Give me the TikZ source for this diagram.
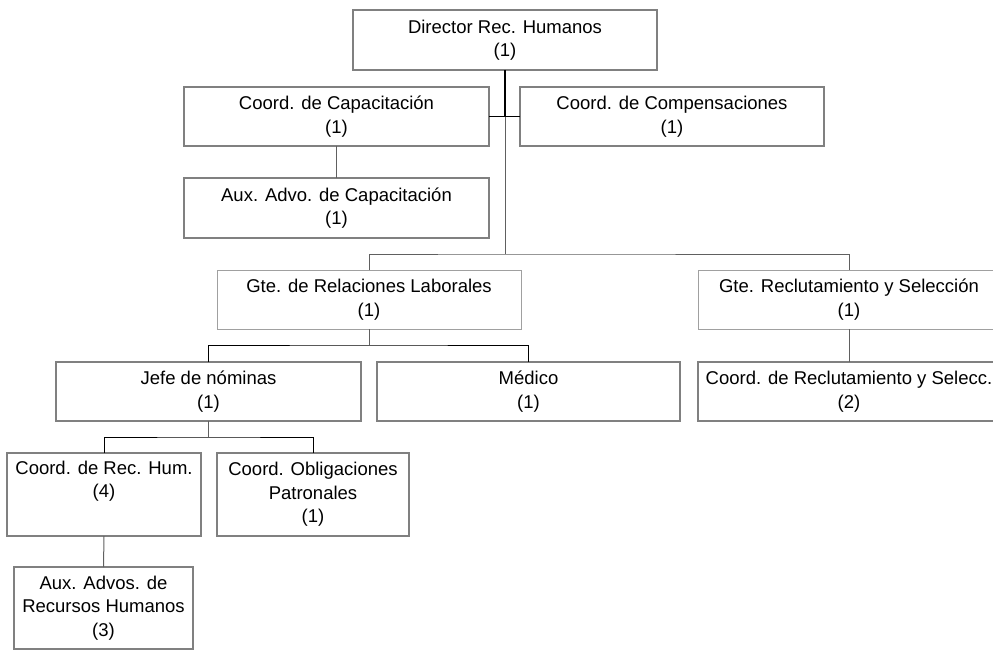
\documentclass[tikz,border=0pt]{standalone}
\usepackage{fontspec}
\setmainfont{Liberation Sans}
\definecolor{boxgray}{HTML}{808080}
\definecolor{thingray}{HTML}{A0A0A0}
\definecolor{linkgray}{HTML}{606060}
\begin{document}
\begin{tikzpicture}[x=1pt,y=-1pt,
  every node/.style={font=\fontsize{18.5}{23.5}\selectfont, align=center, inner sep=0pt, outer sep=0pt},
  unit/.style={draw=boxgray, line width=2pt, minimum height=59pt},
  lightunit/.style={draw=thingray, line width=1pt, minimum height=59pt},
  link/.style={draw=linkgray, line width=1pt},
  darklink/.style={draw=black, line width=1pt}]
\clip (0,0) rectangle (993,650);

% top level
\node[unit, minimum width=304pt, minimum height=60pt] (dir) at (505,40) {Director Rec. Humanos\\(1)};
\node[unit, minimum width=305pt] (cap) at (336.5,116.5) {Coord. de Capacitación\\(1)};
\node[unit, minimum width=304pt] (comp) at (672,116.5) {Coord. de Compensaciones\\(1)};
\node[unit, minimum width=305pt, minimum height=60pt] (auxcap) at (336.5,208) {Aux. Advo. de Capacitación\\(1)};

% managers
\node[lightunit, minimum width=304pt] (gterl) at (369,299.5) {Gte. de Relaciones Laborales\\(1)};
\node[lightunit, minimum width=302pt] (gters) at (849,299.5) {Gte. Reclutamiento y Selección\\(1)};

% third level
\node[unit, minimum width=305pt] (jefe) at (208.5,391.5) {Jefe de nóminas\\(1)};
\node[unit, minimum width=303pt] (med) at (528.5,391.5) {Médico\\(1)};
\node[unit, minimum width=302pt] (coordrs) at (849,391.5) {Coord. de Reclutamiento y Selecc.\\(2)};

% payroll staff
\node[unit, minimum width=194pt, minimum height=83pt] (rechum) at (104,494.5) {Coord. de Rec. Hum.\\(4)\\\strut};
\node[unit, minimum width=192pt, minimum height=83pt] (oblig) at (313,494.5) {Coord. Obligaciones\\Patronales\\(1)};
\node[unit, minimum width=179pt, minimum height=82pt] (auxrh) at (103.5,608) {Aux. Advos. de\\Recursos Humanos\\(3)};

% junctions
\coordinate (j0) at (505,117);
\coordinate (b1) at (505,254);
\coordinate (b2) at (369,345);
\coordinate (b3) at (208.5,437);

% connectors
\draw[darklink, line width=1.3pt] (dir.south) -- (j0);
\draw[darklink] (cap.east) -- (comp.west);
\draw[link] (j0) -- (b1);
\draw[link] (cap.south) -- (auxcap.north);
\draw[link] (gterl.north) |- (b1) -| (gters.north);
\draw[link] (gterl.south) -- (b2);
\draw[darklink] (jefe.north) |- (b2) -| (med.north);
\draw[link] (gters.south) -- (coordrs.north);
\draw[link] (jefe.south) -- (b3);
\draw[darklink] (rechum.north) |- (b3) -| (oblig.north);
\draw[link] (rechum.south) -- (auxrh.north);
\end{tikzpicture}
\end{document}
